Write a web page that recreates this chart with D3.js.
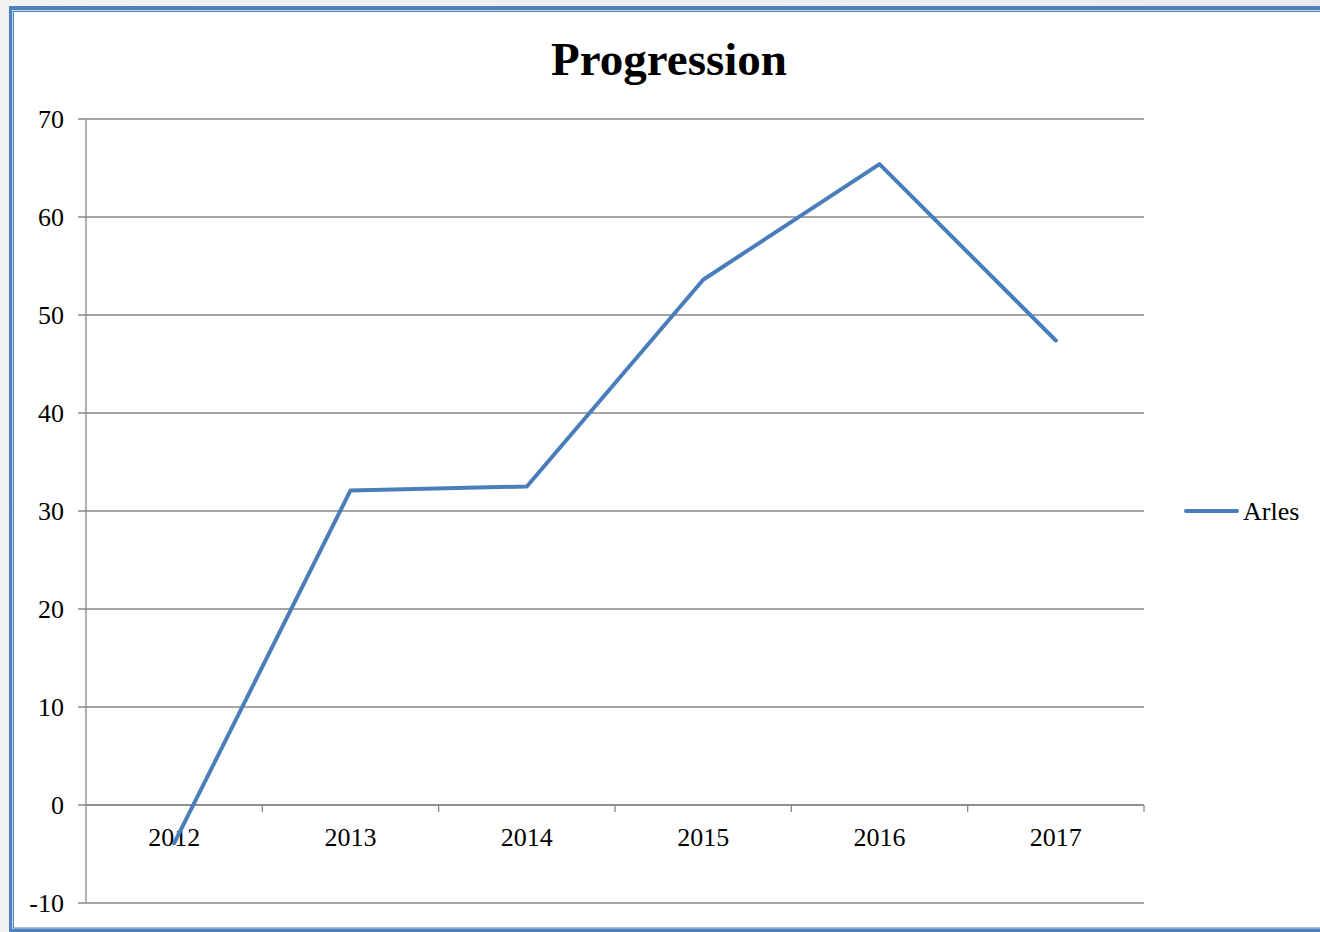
<!DOCTYPE html>
<html>
<head>
<meta charset="utf-8">
<script src="https://cdn.jsdelivr.net/npm/d3@7"></script>
<style>
  html, body { margin: 0; padding: 0; background: #f0f0f0; overflow: hidden; }
  svg { display: block; }
</style>
</head>
<body>
<svg id="chart" width="1320" height="932"></svg>
<script>
const categories = ["2012", "2013", "2014", "2015", "2016", "2017"];
const seriesName = "Arles";
const seriesValues = [-3.9, 32.1, 32.5, 53.6, 65.4, 47.4];
const yTicks = [-10, 0, 10, 20, 30, 40, 50, 60, 70];
const chartTitle = "Progression";

const svg = d3.select("#chart");
const W = 1320, H = 932;
const font = "'Liberation Serif', 'Times New Roman', serif";

// background gradient outside frame
const defs = svg.append("defs");
const bg = defs.append("linearGradient").attr("id", "bg").attr("x1", 0).attr("y1", 0).attr("x2", 1).attr("y2", 0);
bg.append("stop").attr("offset", "0%").attr("stop-color", "#f2f2f2");
bg.append("stop").attr("offset", "100%").attr("stop-color", "#ebebeb");
svg.append("rect").attr("width", W).attr("height", H).attr("fill", "url(#bg)");

// chart frame (double blue border)
svg.append("rect").attr("x", 11).attr("y", 8).attr("width", 1330).attr("height", 922)
  .attr("fill", "#ffffff").attr("stroke", "#4f81bd").attr("stroke-width", 4);
svg.append("rect").attr("x", 12.5).attr("y", 10.5).attr("width", 1330).attr("height", 918)
  .attr("fill", "none").attr("stroke", "#c6d9f1").attr("stroke-width", 1);
svg.append("rect").attr("x", 13.5).attr("y", 11.5).attr("width", 1330).attr("height", 916.5)
  .attr("fill", "none").attr("stroke", "#4f81bd").attr("stroke-width", 1);

const plot = { left: 86, right: 1144, top: 119, bottom: 903 };

const x = d3.scaleBand().domain(categories).range([plot.left, plot.right]).paddingInner(0).paddingOuter(0);
const y = d3.scaleLinear().domain([-10, 70]).range([plot.bottom, plot.top]);

const gridColor = "#878787";

// gridlines
svg.append("g").selectAll("line").data(yTicks).join("line")
  .attr("x1", plot.left - 8).attr("x2", plot.right)
  .attr("y1", d => y(d)).attr("y2", d => y(d))
  .attr("stroke", gridColor).attr("stroke-width", 1.3);

// y axis line
svg.append("line").attr("x1", plot.left).attr("x2", plot.left)
  .attr("y1", plot.top).attr("y2", plot.bottom)
  .attr("stroke", gridColor).attr("stroke-width", 1.3);

// y tick labels
svg.append("g").selectAll("text").data(yTicks).join("text")
  .attr("x", 64).attr("y", d => y(d))
  .attr("dy", "0.35em")
  .attr("text-anchor", "end")
  .attr("font-family", font).attr("font-size", 26).attr("fill", "#000")
  .text(d => d);

// category axis at y=0
const xAxis = d3.axisBottom(x).tickSize(0).tickFormat(() => "");
const gx = svg.append("g").attr("transform", `translate(0,${y(0)})`).call(xAxis);
gx.select(".domain").remove();
svg.append("line").attr("x1", plot.left).attr("x2", plot.right)
  .attr("y1", y(0)).attr("y2", y(0)).attr("stroke", gridColor).attr("stroke-width", 1.3);
const boundaries = categories.map(c => x(c)).concat([x(categories[categories.length - 1]) + x.bandwidth()]).slice(1);
svg.append("g").selectAll("line").data(boundaries).join("line")
  .attr("x1", d => d).attr("x2", d => d)
  .attr("y1", y(0)).attr("y2", y(0) + 7)
  .attr("stroke", gridColor).attr("stroke-width", 1.3);

// x labels
svg.append("g").selectAll("text").data(categories).join("text")
  .attr("x", d => x(d) + x.bandwidth() / 2)
  .attr("y", y(0) + 41)
  .attr("text-anchor", "middle")
  .attr("font-family", font).attr("font-size", 26).attr("fill", "#000")
  .text(d => d);

// line series
const line = d3.line()
  .x((d, i) => x(categories[i]) + x.bandwidth() / 2)
  .y(d => y(d));
svg.append("path").datum(seriesValues)
  .attr("d", line)
  .attr("fill", "none").attr("stroke", "#4a7ebb").attr("stroke-width", 4)
  .attr("stroke-linejoin", "round").attr("stroke-linecap", "round");

// title
svg.append("text").attr("x", 669).attr("y", 75)
  .attr("text-anchor", "middle")
  .attr("font-family", font).attr("font-size", 47).attr("font-weight", "bold").attr("fill", "#000")
  .text(chartTitle);

// legend
const lg = svg.append("g");
lg.append("line").attr("x1", 1186).attr("x2", 1237).attr("y1", 511).attr("y2", 511)
  .attr("stroke", "#4a7ebb").attr("stroke-width", 4).attr("stroke-linecap", "round");
lg.append("text").attr("x", 1243).attr("y", 511).attr("dy", "0.35em")
  .attr("font-family", font).attr("font-size", 26).attr("fill", "#000")
  .text(seriesName);
</script>
</body>
</html>
